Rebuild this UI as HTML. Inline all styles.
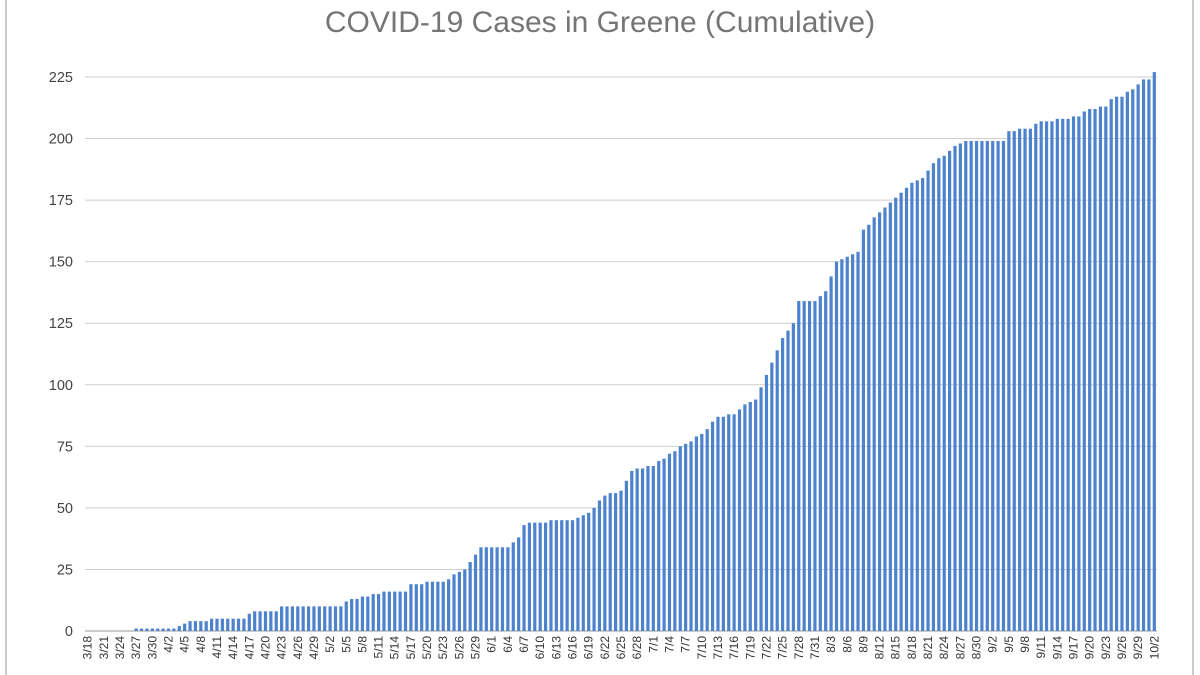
<!DOCTYPE html>
<html><head><meta charset="utf-8"><style>
html,body{margin:0;padding:0;background:#fff;}
svg{display:block;font-family:"Liberation Sans",Arial,sans-serif;}
</style></head><body>
<svg id="c" width="1200" height="675" viewBox="0 0 1200 675" xmlns="http://www.w3.org/2000/svg">
<rect width="1200" height="675" fill="#fff"/>
<line x1="6" y1="0" x2="6" y2="675" stroke="#bbb" stroke-width="1.5"/>
<line x1="1193" y1="0" x2="1193" y2="675" stroke="#bbb" stroke-width="1.5"/>
<text x="600" y="32" text-anchor="middle" font-size="30" fill="#757575">COVID-19 Cases in Greene (Cumulative)</text>
<g id="g"></g>
</svg>
<script>
var ns="http://www.w3.org/2000/svg",g=document.getElementById('g');
function el(t,a,txt){var e=document.createElementNS(ns,t);for(var k in a)e.setAttribute(k,a[k]);if(txt!==undefined)e.textContent=txt;g.appendChild(e);return e;}
var y0=631,y225=77,k=(y0-y225)/225,x0=85,x1=1157;
for(var v=0;v<=225;v+=25){var y=y0-v*k;
 el('line',{x1:x0,x2:x1,y1:y,y2:y,stroke:v==0?'#999':'#cfcfcf','stroke-width':1});
 el('text',{x:73,y:y+5,'text-anchor':'end','font-size':14.5,fill:'#444'},v);}
var kp=[[0,0],[8,0],[9,1],[16,1],[17,2],[18,3],[19,4],[26,5],[29,5],[30,7],[31,8],[35,8],[36,10],[47,10],[48,12],[50,13],[54,15],[56,16],[59,16],[60,19],[66,20],[70,25],[72,31],[73,34],[78,34],[80,38],[81,43],[82,44],[90,45],[93,48],[96,55],[99,57],[101,65],[105,67],[108,72],[111,76],[114,80],[117,87],[120,88],[122,92],[124,94],[126,104],[129,119],[131,125],[132,134],[135,134],[137,138],[139,150],[143,154],[144,163],[147,170],[150,176],[153,182],[155,184],[157,190],[159,193],[161,197],[163,199],[170,199],[171,203],[175,204],[177,207],[182,208],[184,209],[186,212],[189,213],[190,216],[192,217],[194,220],[196,224],[197,224],[198,227]];
function val(i){for(var j=0;j<kp.length-1;j++){var a=kp[j],b=kp[j+1];if(i>=a[0]&&i<=b[0])return Math.round(a[1]+(b[1]-a[1])*(i-a[0])/(b[0]-a[0]));}return 0;}
var N=199,step=(x1-x0)/N,ml=[31,30,31,30,31,31,30,31],mon=3,day=18;
for(var i=0;i<N;i++){var v=val(i),cx=x0+step*(i+0.5),h=v*k;
 if(h>0)el('rect',{x:cx-1.6,y:y0-h,width:3.2,height:h,fill:'#4d82cc'});
 if(i%3==0){el('text',{x:0,y:0,'font-size':12,fill:'#333','text-anchor':'end',transform:'translate('+(cx+4)+',636) rotate(-90)'},mon+'/'+day);}
 day++;if(day>ml[mon-3]){day=1;mon++;}
}
</script>
</body></html>
